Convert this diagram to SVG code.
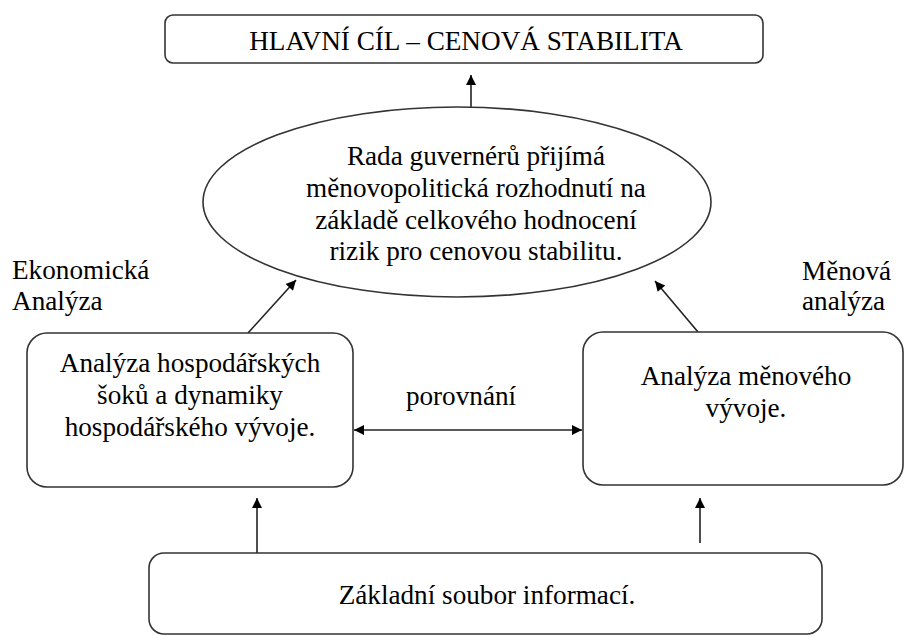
<svg xmlns="http://www.w3.org/2000/svg" width="906" height="637" viewBox="0 0 906 637">
<style>
.box{fill:#fff;stroke:#333;stroke-width:1.6}
.t{font-family:"Liberation Serif","Times New Roman",serif;font-size:27.2px;fill:#000}
.c{text-anchor:middle}
.ln{stroke:#222;stroke-width:1.6;fill:none}
</style>
<defs>
<marker id="ah" viewBox="0 0 10 10" refX="10" refY="5" markerWidth="12" markerHeight="10" orient="auto-start-reverse" markerUnits="userSpaceOnUse">
<path d="M0,0 L10,5 L0,10 z" fill="#000"/>
</marker>
</defs>
<rect width="906" height="637" fill="#fff"/>
<g id="connectors">
<line class="ln" x1="471" y1="107" x2="471" y2="75" marker-end="url(#ah)"/>
<line class="ln" x1="248" y1="333" x2="296" y2="280" marker-end="url(#ah)"/>
<line class="ln" x1="698" y1="332" x2="655" y2="281" marker-end="url(#ah)"/>
<line class="ln" x1="354" y1="430" x2="582" y2="430" marker-start="url(#ah)" marker-end="url(#ah)"/>
<line class="ln" x1="257" y1="553" x2="257" y2="498" marker-end="url(#ah)"/>
<line class="ln" x1="700" y1="543" x2="700" y2="498" marker-end="url(#ah)"/>
</g>
<g id="goal">
<rect class="box" x="165" y="15" width="598" height="48" rx="8"/>
<text class="t c" x="466" y="50">HLAVNÍ CÍL – CENOVÁ STABILITA</text>
</g>
<g id="council">
<ellipse class="box" cx="457" cy="202" rx="254" ry="95"/>
<text class="t c" x="476" y="165">Rada guvernérů přijímá</text>
<text class="t c" x="476" y="197">měnovopolitická rozhodnutí na</text>
<text class="t c" x="476" y="229">základě celkového hodnocení</text>
<text class="t c" x="476" y="260">rizik pro cenovou stabilitu.</text>
</g>
<g id="label-ekonomicka">
<text class="t" x="12" y="279">Ekonomická</text>
<text class="t" x="12" y="310">Analýza</text>
</g>
<g id="label-menova">
<text class="t" x="802" y="280">Měnová</text>
<text class="t" x="802" y="310">analýza</text>
</g>
<g id="economic">
<rect class="box" x="27" y="333" width="326" height="154" rx="20"/>
<text class="t c" x="190" y="372">Analýza hospodářských</text>
<text class="t c" x="190" y="404">šoků a dynamiky</text>
<text class="t c" x="190" y="436">hospodářského vývoje.</text>
</g>
<g id="monetary">
<rect class="box" x="583" y="332" width="320" height="153" rx="20"/>
<text class="t c" x="746" y="385">Analýza měnového</text>
<text class="t c" x="746" y="417">vývoje.</text>
</g>
<g id="label-porovnani">
<text class="t c" x="461" y="405">porovnání</text>
</g>
<g id="info">
<rect class="box" x="149" y="553" width="673" height="81" rx="15"/>
<text class="t c" x="487" y="604">Základní soubor informací.</text>
</g>
</svg>
